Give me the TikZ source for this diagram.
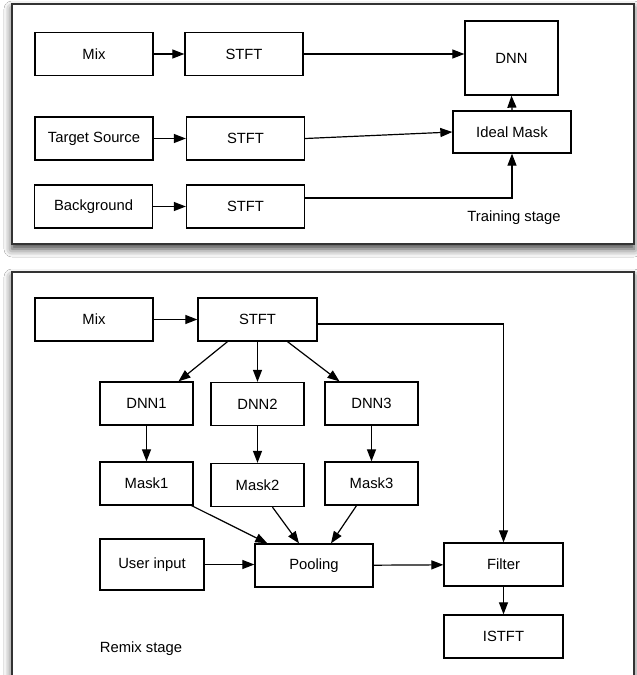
\documentclass[tikz,border=0pt]{standalone}
\usepackage{fontspec}
\setmainfont{Liberation Sans}
\usetikzlibrary{arrows.meta,shadows.blur}
\begin{document}
\begin{tikzpicture}[x=1pt,y=-1pt,
  box/.style={draw,line width=1.3pt,minimum width=118pt,minimum height=43pt,inner sep=0pt,font=\fontsize{14.8}{17}\selectfont},
  nbox/.style={box,minimum width=93pt},
  conn/.style={line width=1.2pt,-{Triangle[length=12pt,width=9pt]}},
  lbl/.style={font=\fontsize{14.8}{17}\selectfont,inner sep=0pt},
  panel/.style={fill=white,draw=black!80,line width=1.7pt,inner sep=0pt,
    blur shadow={shadow xshift=0pt,shadow yshift=-5pt,shadow blur radius=8pt,shadow opacity=75}}]
\useasboundingbox (0,0) rectangle (637,675);
\fill[white] (0,0) rectangle (637,675);

% panels
\node[panel,minimum width=622pt,minimum height=240pt] (frameA) at (323,124) {};
\node[panel,minimum width=622pt,minimum height=430pt] (frameB) at (323,487) {};

% ---------- Training stage ----------
\node[box] (mixA) at (94,54) {Mix};
\node[box] (stftA) at (244,54) {STFT};
\node[box,minimum width=93pt,minimum height=74pt] (dnnA) at (511.5,58) {DNN};
\node[box] (tsA) at (94,138.5) {Target Source};
\node[box] (stftB) at (245.5,138.5) {STFT};
\node[box,minimum height=42pt] (idealA) at (512,132) {Ideal Mask};
\node[box] (bgA) at (93.5,206.5) {Background};
\node[box] (stftC) at (245.5,206.5) {STFT};
\node[lbl] (trainA) at (514,218) {Training stage};

\draw[conn] (mixA) -- (stftA);
\draw[conn] (stftA.east) -- (stftA.east -| dnnA.west);
\draw[conn] (tsA) -- (stftB);
\draw[conn] (stftB.east) -- (idealA.west);
\draw[conn] (bgA) -- (stftC);
\draw[conn] ([yshift=8.5pt]stftC.east) -| (idealA.south);
\draw[conn] (idealA.north) -- (dnnA.south);

% ---------- Remix stage ----------
\node[box] (mixB) at (94,319.5) {Mix};
\node[box,minimum width=119pt] (stftD) at (257.5,319.5) {STFT};
\node[nbox] (dnn1) at (146.5,403.5) {DNN1};
\node[nbox] (dnn2) at (257.5,404) {DNN2};
\node[nbox] (dnn3) at (371.5,403.5) {DNN3};
\node[nbox] (mask1) at (146.5,483.5) {Mask1};
\node[nbox] (mask2) at (257.5,485) {Mask2};
\node[nbox] (mask3) at (371.5,483.5) {Mask3};
\node[box,minimum width=104pt,minimum height=51pt] (user) at (152,564.5) {User input};
\node[box] (pool) at (314,565.5) {Pooling};
\node[box,minimum width=119pt] (filter) at (503.5,564.5) {Filter};
\node[box,minimum width=119pt] (istft) at (503.5,636.5) {ISTFT};
\node[lbl] (remixB) at (141,649) {Remix stage};

\draw[conn] (mixB) -- (stftD);
\draw[conn] ([yshift=-4.5pt]stftD.east) -| (filter.north);
\draw[conn] ([xshift=-30pt]stftD.south) -- ([xshift=32pt]dnn1.north);
\draw[conn] (stftD.south) -- (dnn2.north);
\draw[conn] ([xshift=30pt]stftD.south) -- ([xshift=-32pt]dnn3.north);
\draw[conn] (dnn1) -- (mask1);
\draw[conn] (dnn2) -- (mask2);
\draw[conn] (dnn3) -- (mask3);
\draw[conn] ([xshift=-2pt]mask1.south east) -- ([xshift=13pt]pool.north west);
\draw[conn] ([xshift=15pt]mask2.south) -- ([xshift=-15pt]pool.north);
\draw[conn] ([xshift=-15pt]mask3.south) -- ([xshift=17pt]pool.north);
\draw[conn] (user.east) -- (user.east -| pool.west);
\draw[conn] (pool) -- (filter);
\draw[conn] (filter) -- (istft);
\end{tikzpicture}
\end{document}
